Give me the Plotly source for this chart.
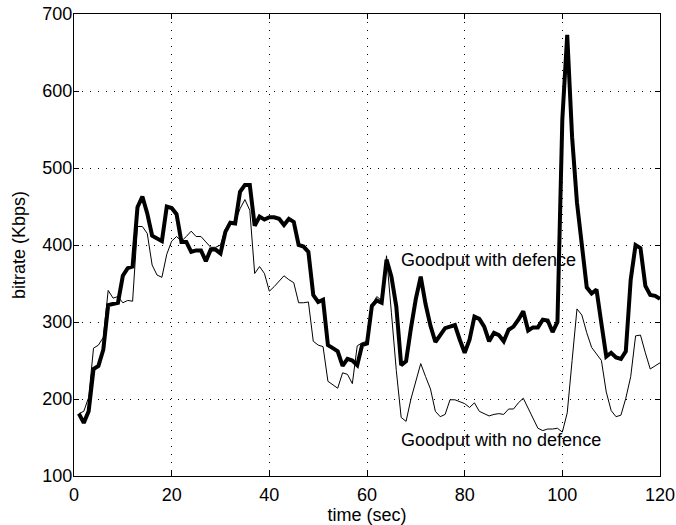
import plotly.graph_objects as go

time_sec = list(range(1, 121))

goodput_defence = [
    181, 169, 184, 239, 243, 264, 322, 323, 325, 360,
    370, 372, 449, 463, 441, 412, 409, 405, 450, 448,
    440, 404, 404, 391, 393, 393, 379, 394, 394, 389,
    417, 429, 428, 469, 478, 478, 425, 437, 433, 436,
    436, 434, 426, 434, 430, 400, 398, 391, 335, 326,
    329, 270, 266, 262, 243, 252, 250, 244, 270, 272,
    321, 328, 325, 381, 359, 320, 244, 249, 292, 330,
    359, 323, 295, 274, 283, 292, 294, 296, 277, 260,
    277, 307, 304, 294, 275, 286, 283, 275, 290, 294,
    303, 314, 289, 293, 293, 303, 302, 287, 300, 563,
    673, 540, 455, 400, 345, 337, 342, 298, 255, 260,
    254, 252, 262, 355, 400, 396, 347, 335, 334, 330,
]

goodput_no_defence = [
    181, 184, 202, 266, 270, 280, 341, 331, 333, 325,
    328, 327, 424, 424, 415, 374, 361, 358, 388, 405,
    411, 405, 411, 418, 411, 411, 404, 397, 397, 400,
    421, 428, 430, 447, 459, 445, 363, 372, 363, 340,
    346, 353, 360, 355, 351, 325, 325, 326, 275, 270,
    268, 223, 218, 214, 234, 232, 220, 269, 273, 275,
    322, 333, 328, 386, 312, 237, 176, 171, 200, 222,
    246, 229, 213, 184, 177, 180, 199, 199, 196, 194,
    189, 195, 184, 181, 178, 180, 181, 180, 187, 187,
    195, 201, 188, 175, 162, 159, 161, 161, 162, 157,
    182, 250, 317, 309, 286, 267, 258, 250, 209, 185,
    177, 179, 201, 229, 282, 283, 260, 239, 243, 247,
]

x_ticks = [0, 20, 40, 60, 80, 100, 120]
y_ticks = [100, 200, 300, 400, 500, 600, 700]

label_defence = "Goodput with defence"
label_no_defence = "Goodput with no defence"

FONT = "Liberation Sans, Arial, Helvetica, sans-serif"
FS = 18

fig = go.Figure()
fig.add_trace(go.Scatter(x=time_sec, y=goodput_no_defence, mode="lines",
                         line=dict(color="black", width=1), showlegend=False))
fig.add_trace(go.Scatter(x=time_sec, y=goodput_defence, mode="lines",
                         line=dict(color="black", width=4), showlegend=False))

fig.add_annotation(x=66.5, y=381, text=label_defence, showarrow=False,
                   xanchor="left", yanchor="middle",
                   font=dict(family=FONT, size=FS, color="black"))
fig.add_annotation(x=66.5, y=147, text=label_no_defence, showarrow=False,
                   xanchor="left", yanchor="middle",
                   font=dict(family=FONT, size=FS, color="black"))

axis_common = dict(
    showline=True, linecolor="black", linewidth=1, mirror="ticks",
    ticks="inside", ticklen=5, tickcolor="black",
    showgrid=True, gridcolor="black", gridwidth=1, griddash="1px,7px",
    zeroline=False, ticklabeloverflow="allow",
    tickfont=dict(family=FONT, size=FS, color="black"),
)

fig.update_xaxes(range=[0, 120], tickvals=x_ticks, ticktext=[str(v) for v in x_ticks],
                 ticklabelstandoff=2,
                 title=dict(text="time (sec)", font=dict(family=FONT, size=FS, color="black"),
                            standoff=4),
                 **axis_common)
fig.update_yaxes(range=[100, 700], tickvals=y_ticks, ticktext=[str(v) for v in y_ticks],
                 ticklabelstandoff=-3,
                 title=dict(text="bitrate (Kbps)", font=dict(family=FONT, size=FS, color="black"),
                            standoff=12),
                 **axis_common)

fig.update_layout(
    width=676, height=525,
    margin=dict(l=73.5, r=16, t=13.5, b=49, autoexpand=False),
    plot_bgcolor="white", paper_bgcolor="white",
    font=dict(family=FONT, size=FS, color="black"),
)

fig.write_html("out.html",
               config={"displayModeBar": False},
               post_script="document.body.style.margin='0';document.body.style.overflow='hidden';")
